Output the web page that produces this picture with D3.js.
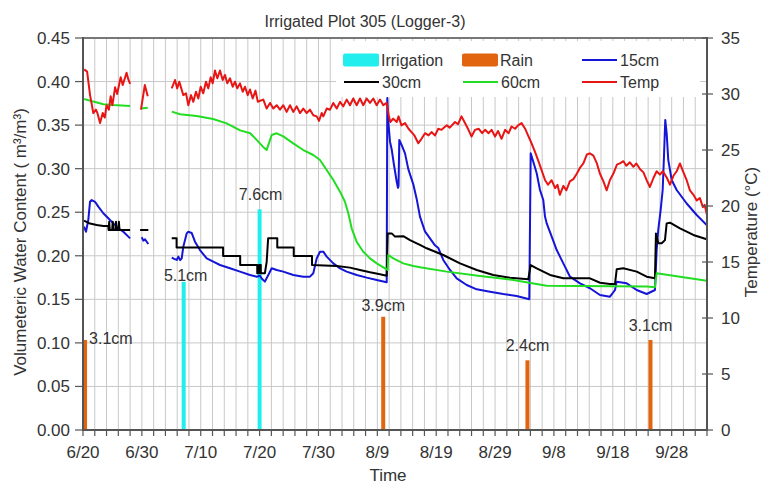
<!DOCTYPE html>
<html><head><meta charset="utf-8">
<script src="https://cdn.jsdelivr.net/npm/d3@7"></script>
<style>
body{margin:0;background:#fff;}
text{font-family:"Liberation Sans",Arial,sans-serif;fill:#333;}
</style>
</head><body>
<svg id="chart" width="763" height="484"></svg>
<script>
// ---------------- DATA ----------------
const title = "Irrigated Plot 305 (Logger-3)";
const xTickDays   = [0,10,20,30,40,50,60,70,80,90,100];
const xTickLabels = ["6/20","6/30","7/10","7/20","7/30","8/9","8/19","8/29","9/8","9/18","9/28"];
const vwcTicks  = [0,0.05,0.10,0.15,0.20,0.25,0.30,0.35,0.40,0.45];
const tempTicks = [0,5,10,15,20,25,30,35];

// bars (day offset from 6/20, depth in cm)
const irrigationDay = [17.1, 30.0];
const irrigationCm  = [5.1, 7.6];
const rainDay = [0.35, 51.0, 75.5, 96.4];
const rainCm  = [3.1, 3.9, 2.4, 3.1];

// 15cm VWC [day, m3/m3]
const vwc15 = [
 [0.17,0.2334],[0.51,0.2276],[0.9,0.241],[1.19,0.262],[1.48,0.264],[2.04,0.262],[2.6,0.2564],[3.45,0.2488],[4.3,0.243],[5.15,0.2372],[6.0,0.2315],[6.85,0.2276],[7.7,0.222],[8.0,0.22],
 [9,null],
 [9.97,0.2212],[10.25,0.2174],[10.53,0.219],[11.09,0.2135],
 [13,null],
 [15.07,0.198],[15.5,0.1965],[15.92,0.1952],[16.2,0.199],[16.5,0.195],[16.77,0.197],[17.04,0.2105],[17.61,0.2257],[17.89,0.2276],[18.46,0.2262],[19.02,0.2162],[19.87,0.2066],[21.01,0.197],[22.13,0.1932],[23.27,0.1894],[24.97,0.1856],[26.67,0.1818],[28.37,0.178],[29.51,0.176],[30.07,0.177],[30.35,0.174],[30.9,0.1703],[31.48,0.178],[32.05,0.1856],[32.9,0.1837],[34.02,0.1818],[35.72,0.178],[37.42,0.176],[38.56,0.176],[39.12,0.18],[39.7,0.197],[40.26,0.2047],[40.82,0.2047],[41.4,0.199],[42.52,0.1913],[43.66,0.1856],[44.79,0.1818],[46.49,0.178],[48.19,0.1749],[49.89,0.1722],[51.59,0.1695],
 [51.69,0.381],[51.86,0.354],[52.15,0.331],[52.44,0.322],[52.83,0.3042],[53.29,0.285],[53.5,0.278],[53.6,0.28],[53.73,0.333],[54.14,0.327],[54.7,0.3176],[55.26,0.2995],[56.11,0.282],[56.69,0.265],[57.24,0.245],[58.09,0.228],[58.94,0.22],[59.79,0.212],[60.35,0.209],[61.2,0.1952],[62.34,0.1837],[63.48,0.1741],[65.18,0.1665],[66.88,0.1615],[69.14,0.1588],[71.39,0.1561],[73.67,0.1538],[75.81,0.15],
 [76.05,0.3176],[76.49,0.308],[77.07,0.2947],[77.63,0.2755],[78.19,0.264],[78.48,0.245],[78.77,0.2372],[79.62,0.222],[80.47,0.2066],[81.59,0.1913],[82.73,0.176],[84.42,0.1684],[86.12,0.1627],[87.82,0.155],[89.52,0.153],[90.37,0.1607],[90.66,0.1703],[92.36,0.1684],[94.06,0.1607],[95.75,0.1561],[97.16,0.1607],
 [97.45,0.2066],[97.72,0.2296],[98.13,0.2526],[98.47,0.2755],[98.69,0.3138],[98.91,0.356],[99.15,0.3406],[99.42,0.31],[100.0,0.287],[100.85,0.2755],[102.55,0.26],[104.25,0.2468],[105.95,0.2353]
];

// 30cm VWC
const vwc30 = [
 [0.17,0.2403],[1.19,0.237],[2.33,0.2353],[3.45,0.2342],[4.3,0.2342],
 [4.35,0.2296],[4.45,0.239],[4.55,0.2296],[4.95,0.2296],[5.05,0.239],[5.15,0.2296],[5.5,0.2296],[5.6,0.239],[5.7,0.2296],[6.0,0.2296],[6.1,0.239],[6.2,0.2296],[8.0,0.2296],
 [9,null],
 [9.7,0.2296],[11.1,0.2296],
 [13,null],
 [15.07,0.22],[15.9,0.22],[15.9,0.2095],[23.8,0.2095],[23.8,0.1997],[26.7,0.1997],[26.7,0.1894],[29.6,0.1894],[29.6,0.18],[29.9,0.18],[29.9,0.1894],[30.2,0.1894],[30.2,0.18],[30.9,0.18],[31.2,0.193],[31.45,0.22],[33.0,0.22],[33.0,0.2094],[35.8,0.2094],[35.8,0.1997],[38.9,0.1997],[38.9,0.1894],[43.1,0.1883],[45.35,0.1864],[47.05,0.1837],[48.75,0.181],[50.45,0.1787],[51.59,0.177],
 [51.76,0.2257],[52.44,0.2257],[53.0,0.222],[54.41,0.2225],[55.55,0.218],[56.69,0.2143],[57.24,0.2124],[58.38,0.2086],[61.2,0.2009],[64.04,0.1913],[66.88,0.1837],[69.7,0.178],[72.53,0.1749],[75.64,0.173],
 [76.05,0.1894],[77.07,0.1856],[79.33,0.178],[81.59,0.1741],[83.86,0.1741],[86.12,0.1741],[87.82,0.169],[89.52,0.1676],[90.37,0.1676],[90.66,0.1845],[91.78,0.1856],[94.06,0.1818],[95.75,0.176],[97.16,0.1741],
 [97.33,0.2257],[97.72,0.2143],[98.3,0.2143],[98.86,0.218],[99.15,0.2372],[99.71,0.238],[101.41,0.2315],[103.68,0.2239],[105.95,0.219]
];

// 60cm VWC
const vwc60 = [
 [0.2,0.380],[1.75,0.377],[3.45,0.374],[5.15,0.373],[8.0,0.372],
 [9,null],
 [9.85,0.369],[11.0,0.370],
 [13,null],
 [15.07,0.3655],[16.5,0.3625],[19.3,0.3605],[22.1,0.357],[24.4,0.352],[26.7,0.344],[28.4,0.3406],[29.5,0.333],[30.6,0.325],[31.2,0.3214],[31.48,0.327],[32.05,0.3387],[32.9,0.3406],[34.02,0.337],[35.72,0.329],[37.42,0.3214],[39.12,0.3157],[40.26,0.31],[41.4,0.2985],[42.52,0.287],[43.66,0.2736],[44.5,0.262],[45.07,0.2488],[45.64,0.2315],[46.49,0.216],[47.61,0.2047],[48.75,0.197],[49.89,0.1913],[51.3,0.1856],[51.76,0.1837],
 [51.86,0.2009],[52.71,0.197],[54.41,0.1913],[56.11,0.1883],[57.24,0.1868],[61.78,0.1818],[67.44,0.1768],[73.09,0.1722],[78.77,0.1655],[84.42,0.1653],[90.08,0.1650],[95.75,0.1646],[97.16,0.164],
 [97.45,0.18],[101.41,0.176],[105.95,0.1714]
];

// Temperature [day, degC]
const temp = [
 [0.2,32.2],[0.7,32.0],[1.2,29.9],[1.75,28.3],[2.2,28.6],[2.45,28.3],[2.9,27.4],[3.35,28.3],[3.7,27.9],[4.0,29.0],[4.4,28.6],[4.7,29.8],[5.0,29.0],[5.45,30.6],[5.8,30.0],[6.4,31.5],[6.75,30.8],[7.4,31.9],[7.7,31.3],[8.0,30.9],
 [9,null],
 [9.85,28.6],[10.5,30.8],[11.0,29.8],
 [13,null],
 [15.07,30.5],[15.63,31.25],[16.0,30.5],[16.36,31.1],[17.04,29.9],[17.5,30.06],[17.89,29.0],[18.35,29.9],[18.74,29.3],[19.19,30.2],[19.59,29.6],[19.99,30.65],[20.43,30.06],[20.89,31.1],[21.29,30.5],[21.69,31.5],[22.03,30.95],[22.42,32.1],[22.81,31.4],[23.27,32.1],[23.73,31.25],[24.12,31.7],[24.51,30.95],[24.97,31.4],[25.43,30.65],[25.82,31.1],[26.21,30.5],[26.67,30.95],[27.13,30.2],[27.52,30.65],[27.98,29.9],[28.37,30.4],[28.83,29.6],[29.3,30.3],[29.7,29.3],[30.1,29.4],[30.63,29.5],[31.2,28.7],[31.77,29.2],[32.33,28.7],[32.9,29.0],[33.46,28.6],[34.02,29.0],[34.6,28.4],[35.16,29.0],[35.72,28.4],[36.3,28.9],[36.86,28.3],[37.42,28.7],[38.0,28.3],[38.56,28.6],[39.12,28.1],[39.7,28.0],[40.09,27.6],[40.55,28.3],[40.82,28.0],[41.4,28.7],[41.96,28.6],[42.52,29.2],[43.1,28.7],[43.66,29.3],[44.22,28.9],[44.79,29.5],[45.35,29.0],[45.91,29.6],[46.49,29.0],[47.05,29.6],[47.61,29.0],[48.19,29.6],[48.75,29.2],[49.31,29.6],[49.89,29.0],[50.45,29.5],[51.01,29.0],[51.59,29.2],
 [51.9,28.2],[52.2,27.5],[52.7,27.8],[53.3,27.5],[53.6,28.0],[54.1,27.2],[54.7,27.4],[55.3,26.9],[55.8,26.6],[56.3,26.3],[56.96,25.6],[57.5,26.0],[58.1,26.5],[58.7,26.3],[59.2,26.6],[59.8,26.3],[60.35,26.9],[60.9,26.8],[61.8,27.2],[62.3,27.0],[63.2,27.5],[63.7,27.3],[64.3,28.0],[64.8,27.5],[65.4,26.9],[66.0,26.2],[66.6,26.8],[67.2,26.9],[67.8,26.5],[68.3,26.8],[68.9,26.5],[69.4,26.8],[70.0,26.2],[70.5,26.7],[71.1,26.0],[71.7,26.8],[72.3,26.5],[72.8,27.1],[73.4,26.9],[73.9,27.2],[74.5,27.4],[75.1,26.9],[75.6,26.3],[76.2,25.6],[76.8,24.8],[77.3,24.1],[77.9,23.2],[78.5,22.3],[79.0,21.9],[79.6,22.3],[80.2,21.6],[80.6,21.9],[81.0,21.0],[81.6,21.8],[82.1,21.4],[82.7,22.2],[83.3,22.4],[83.9,22.9],[84.4,23.4],[85.0,23.8],[85.6,24.6],[86.1,24.7],[86.7,24.5],[87.3,23.8],[87.8,22.9],[88.4,22.2],[88.96,21.4],[89.5,22.3],[90.1,22.9],[90.7,23.7],[91.2,23.8],[91.8,24.0],[92.3,23.6],[92.9,23.9],[93.5,23.5],[94.0,23.8],[94.6,23.3],[95.2,23.0],[95.75,22.3],[96.3,21.7],[96.9,22.5],[97.45,23.1],[98.0,22.8],[98.5,23.1],[99.2,22.5],[99.7,21.9],[100.3,22.7],[100.85,23.1],[101.4,23.8],[102.0,23.0],[102.55,22.3],[103.1,21.4],[103.7,21.0],[104.25,20.5],[104.8,20.7],[105.3,19.9],[105.6,20.1],[106.0,19.2]
];

// ---------------- LAYOUT ----------------
const W = 763, H = 484;
const M = {left:83, right:56, top:38, bottom:54};
const svg = d3.select("#chart");
const x = d3.scaleLinear().domain([0,106]).range([M.left, W - M.right]);
const yL = d3.scaleLinear().domain([0,0.45]).range([H - M.bottom, M.top]);
const yR = d3.scaleLinear().domain([0,35]).range([H - M.bottom, M.top]);
const yBar = d3.scaleLinear().domain([0,13.5]).range([H - M.bottom, M.top]);

const col = {irr:"#22EEEE", rain:"#E2640E", c15:"#1515D8", c30:"#000000", c60:"#22DD22", temp:"#E81515", grid:"#C8C8C8", axis:"#555"};

// gridlines
const gridDays = d3.range(0, 107, 2);
svg.append("g").selectAll("line").data(gridDays).join("line")
  .attr("x1", d=>x(d)).attr("x2", d=>x(d)).attr("y1", yL(0)).attr("y2", yL(0.45))
  .attr("stroke", col.grid).attr("stroke-width", 1);
svg.append("g").selectAll("line").data(vwcTicks).join("line")
  .attr("x1", x(0)).attr("x2", x(106)).attr("y1", d=>yL(d)).attr("y2", d=>yL(d))
  .attr("stroke", col.grid).attr("stroke-width", 1);

// bars
const barW = 4;
svg.append("g").selectAll("rect").data(irrigationDay).join("rect")
  .attr("x", d=>x(d)-barW/2).attr("width", barW)
  .attr("y", (d,i)=>yBar(irrigationCm[i])).attr("height", (d,i)=>yBar(0)-yBar(irrigationCm[i]))
  .attr("fill", col.irr);
svg.append("g").selectAll("rect").data(rainDay).join("rect")
  .attr("x", d=>x(d)-barW/2).attr("width", barW)
  .attr("y", (d,i)=>yBar(rainCm[i])).attr("height", (d,i)=>yBar(0)-yBar(rainCm[i]))
  .attr("fill", col.rain);

// bar labels (layout offsets)
const irrLabelOff = [{dx:2, dy:-1, a:"middle"},{dx:1, dy:-9, a:"middle"}];
const rainLabelOff = [{dx:4, dy:4, a:"start"},{dx:0, dy:-6, a:"middle"},{dx:0, dy:-9, a:"middle"},{dx:0, dy:-9, a:"middle"}];
const lblG = svg.append("g").attr("font-size", 16);
irrigationDay.forEach((d,i)=>{
  lblG.append("text").attr("x", x(d)+irrLabelOff[i].dx).attr("y", yBar(irrigationCm[i])+irrLabelOff[i].dy)
    .attr("text-anchor", irrLabelOff[i].a).text(irrigationCm[i].toFixed(1)+"cm");
});
rainDay.forEach((d,i)=>{
  lblG.append("text").attr("x", x(d)+rainLabelOff[i].dx).attr("y", yBar(rainCm[i])+rainLabelOff[i].dy)
    .attr("text-anchor", rainLabelOff[i].a).text(rainCm[i].toFixed(1)+"cm");
});

// lines
svg.append("clipPath").attr("id","plotclip").append("rect")
  .attr("x", M.left).attr("y", M.top).attr("width", W-M.left-M.right).attr("height", H-M.top-M.bottom);
const lineL = d3.line().defined(d=>d[1]!==null).x(d=>x(d[0])).y(d=>yL(d[1]));
const lineR = d3.line().defined(d=>d[1]!==null).x(d=>x(d[0])).y(d=>yR(d[1]));
const lg = svg.append("g").attr("clip-path","url(#plotclip)").attr("fill","none").attr("stroke-width",2).attr("stroke-linejoin","round");
lg.append("path").attr("d", lineL(vwc15)).attr("stroke", col.c15);
lg.append("path").attr("d", lineL(vwc30)).attr("stroke", col.c30);
lg.append("path").attr("d", lineL(vwc60)).attr("stroke", col.c60);
lg.append("path").attr("d", lineR(temp)).attr("stroke", col.temp);

// legend
const leg = svg.append("g");
leg.append("rect").attr("x",336).attr("y",41).attr("width",364).attr("height",56).attr("fill","#fff");
const legItems = [
  {name:"Irrigation", type:"rect", c:col.irr, cx:343, row:0},
  {name:"Rain", type:"rect", c:col.rain, cx:462, row:0},
  {name:"15cm", type:"line", c:col.c15, cx:582, row:0},
  {name:"30cm", type:"line", c:col.c30, cx:344, row:1},
  {name:"60cm", type:"line", c:col.c60, cx:463, row:1},
  {name:"Temp", type:"line", c:col.temp, cx:582, row:1}
];
legItems.forEach(it=>{
  const cy = 60 + it.row*22;
  if (it.type==="rect") leg.append("rect").attr("x",it.cx).attr("y",cy-6.5).attr("width",36).attr("height",13).attr("rx",2).attr("fill",it.c);
  else leg.append("line").attr("x1",it.cx).attr("x2",it.cx+35).attr("y1",cy).attr("y2",cy).attr("stroke",it.c).attr("stroke-width",2);
  leg.append("text").attr("x",it.cx+38).attr("y",cy+6).attr("font-size",16).text(it.name);
});

// frame
svg.append("line").attr("x1",x(0)).attr("x2",x(106)).attr("y1",M.top).attr("y2",M.top).attr("stroke","#777").attr("stroke-width",2);

// axes
const axG = svg.append("g").attr("stroke", col.axis).attr("stroke-width", 2);
axG.append("line").attr("x1",x(0)).attr("x2",x(0)).attr("y1",yL(0)+1).attr("y2",yL(0.45)-1);
axG.append("line").attr("x1",x(106)).attr("x2",x(106)).attr("y1",yL(0)+1).attr("y2",yL(0.45)-1);
axG.append("line").attr("x1",x(0)-1).attr("x2",x(106)+1).attr("y1",yL(0)).attr("y2",yL(0));
axG.append("g").selectAll("line").data(vwcTicks).join("line")
  .attr("x1",x(0)-8).attr("x2",x(0)).attr("y1",d=>yL(d)).attr("y2",d=>yL(d)).attr("stroke-width",1.2);
axG.append("g").selectAll("line").data(tempTicks).join("line")
  .attr("x1",x(106)-5).attr("x2",x(106)+6).attr("y1",d=>yR(d)).attr("y2",d=>yR(d)).attr("stroke-width",1.2);
axG.append("g").selectAll("line").data(gridDays).join("line")
  .attr("x1",d=>x(d)).attr("x2",d=>x(d)).attr("y1",yL(0)).attr("y2",yL(0)+6).attr("stroke-width",1.2);

const tg = svg.append("g").attr("font-size",17);
tg.selectAll(".yl").data(vwcTicks).join("text")
  .attr("x", x(0)-13).attr("y", d=>yL(d)+6).attr("text-anchor","end").text(d=>d3.format(".2f")(d));
tg.selectAll(".yr").data(tempTicks).join("text")
  .attr("x", x(106)+14).attr("y", d=>yR(d)+6).attr("text-anchor","start").text(d=>d);
tg.selectAll(".xt").data(xTickDays).join("text")
  .attr("x", d=>x(d)).attr("y", yL(0)+28).attr("text-anchor","middle").text((d,i)=>xTickLabels[i]);

// titles
svg.append("text").attr("x",365).attr("y",27).attr("text-anchor","middle").attr("font-size",16).text(title);
svg.append("text").attr("x",388).attr("y",481).attr("text-anchor","middle").attr("font-size",17).text("Time");
svg.append("text").attr("transform","translate(26,242) rotate(-90)").attr("text-anchor","middle").attr("font-size",17).text("Volumeteric Water Content ( m³/m³)");
svg.append("text").attr("transform","translate(757,232) rotate(-90)").attr("text-anchor","middle").attr("font-size",17).text("Temperature (°C)");
</script>
</body></html>
